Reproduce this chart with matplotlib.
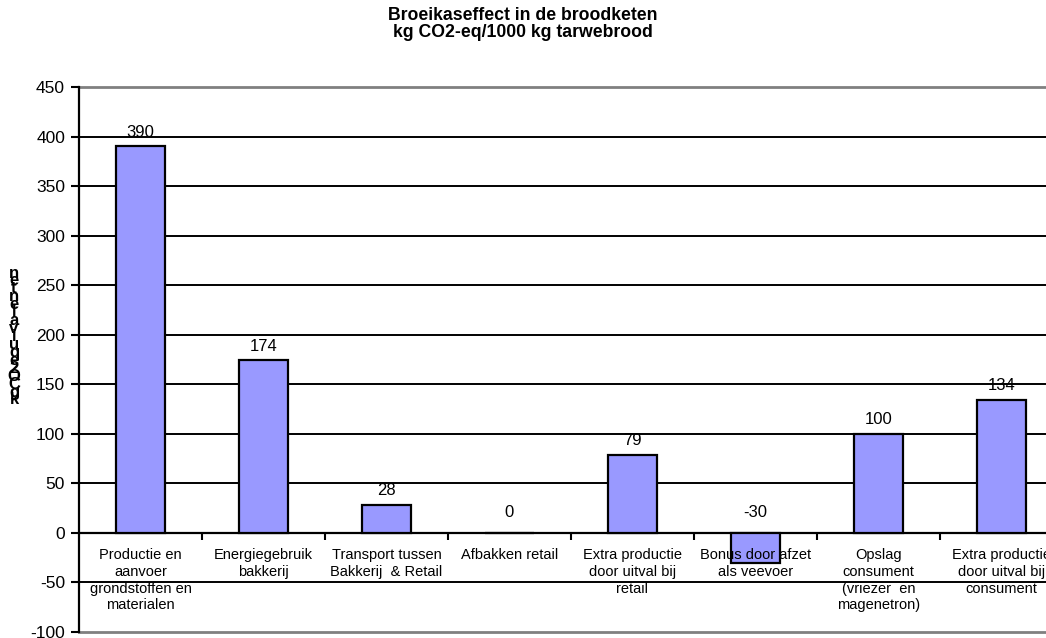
import matplotlib
matplotlib.use("Agg")
import matplotlib.pyplot as plt
import numpy as np

plt.rcParams["font.family"] = ["Liberation Sans", "DejaVu Sans"]
plt.rcParams["axes.unicode_minus"] = False

TITLE = "Broeikaseffect in de broodketen\nkg CO2-eq/1000 kg tarwebrood"
Y_LABEL = "kgCO2equivalenten"

CATEGORIES = [
    "Productie en\naanvoer\ngrondstoffen en\nmaterialen",
    "Energiegebruik\nbakkerij",
    "Transport tussen\nBakkerij  & Retail",
    "Afbakken retail",
    "Extra productie\ndoor uitval bij\nretail",
    "Bonus door afzet\nals veevoer",
    "Opslag\nconsument\n(vriezer  en\nmagenetron)",
    "Extra productie\ndoor uitval bij\nconsument",
]
VALUES = [390, 174, 28, 0, 79, -30, 100, 134]
Y_TICKS = list(range(-100, 451, 50))

BAR_COLOR = "#9999FF"

W, H = 1046, 638
fig = plt.figure(figsize=(W / 100, H / 100), dpi=100)
# axis runs past the right edge of the picture, as in the original
ax = fig.add_axes([79 / W, 6 / H, 984 / W, 545 / H])

x = np.arange(len(CATEGORIES))
ax.bar(x, VALUES, width=0.4, color=BAR_COLOR, edgecolor="black",
       linewidth=1.6, zorder=3)

for xi, v in zip(x, VALUES):
    off = 5 if v > 0 else 9
    ax.annotate(str(v), (xi, max(v, 0)), xytext=(0, off), textcoords="offset points",
                ha="center", va="bottom", fontsize=12, zorder=4)

ax.set_xlim(-0.5, len(CATEGORIES) - 0.5)
ax.set_ylim(Y_TICKS[0], Y_TICKS[-1])
ax.set_yticks(Y_TICKS)
ax.tick_params(axis="y", direction="out", length=6, width=1.5, labelsize=12.5, pad=4)

# horizontal gridlines
for t in Y_TICKS[1:-1]:
    ax.axhline(t, color="black", lw=1.4, zorder=1)
ax.axhline(Y_TICKS[-1], color="#808080", lw=2, zorder=1, clip_on=False)
ax.axhline(Y_TICKS[0], color="#808080", lw=2, zorder=1, clip_on=False)

# category axis sits on the zero line
ax.spines["bottom"].set_position(("data", 0))
ax.spines["bottom"].set_linewidth(1.6)
ax.spines["top"].set_visible(False)
ax.spines["right"].set_visible(False)
ax.spines["left"].set_linewidth(1.6)
ax.set_xticks(x[:-1] + 0.5)
ax.set_xticklabels([])
ax.tick_params(axis="x", direction="out", length=5, width=1.5)

for xi, lab in zip(x, CATEGORIES):
    ax.annotate(lab, (xi, 0), xytext=(0, -11), textcoords="offset points",
                ha="center", va="top", fontsize=10.5, linespacing=1.25, zorder=4)

# stacked letters of the value axis title
chars = Y_LABEL[::-1]
ys = np.linspace(273, 400, len(chars))
for c, yp in zip(chars, ys):
    fig.text(14 / W, 1 - yp / H, c, ha="center", va="center",
             fontsize=12, fontweight="bold")

fig.text(0.5, 1 - 24 / H, TITLE, ha="center", va="center", fontsize=12.7,
         fontweight="bold", linespacing=1.05)

fig.savefig("out.png", dpi=100, facecolor="white")
